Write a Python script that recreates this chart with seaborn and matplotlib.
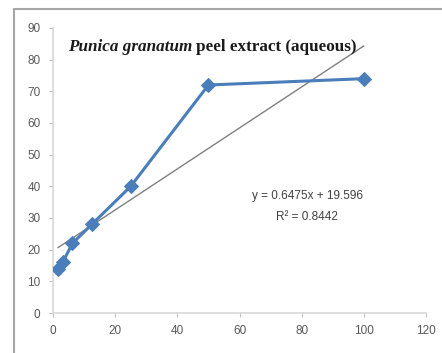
import matplotlib
matplotlib.use("Agg")
import matplotlib.pyplot as plt
import seaborn as sns
import pandas as pd
import numpy as np

# Data
concentration = [1.5625, 3.125, 6.25, 12.5, 25, 50, 100]
inhibition = [14, 16, 22, 28, 40, 72, 74]
slope = 0.6475
intercept = 19.596
x_ticks = [0, 20, 40, 60, 80, 100, 120]
y_ticks = [0, 10, 20, 30, 40, 50, 60, 70, 80, 90]
equation_text = "y = 0.6475x + 19.596"
r2_text = "R² = 0.8442"

sns.set_theme(style="white")
plt.rcParams['font.family'] = ['Liberation Sans', 'DejaVu Sans']

fig = plt.figure(figsize=(4.42, 3.53), dpi=100)
W, H = 442, 353
ax = fig.add_axes([53 / W, (H - 313) / H, 373 / W, 285 / H])

df = pd.DataFrame({"x": concentration, "y": inhibition})
trend_x = [min(concentration), max(concentration)]
trend = pd.DataFrame({"x": trend_x, "y": [slope * v + intercept for v in trend_x]})

sns.lineplot(data=trend, x="x", y="y", ax=ax, color="#808080", linewidth=1.0, zorder=2)
sns.lineplot(data=df, x="x", y="y", ax=ax, color="#4a7ebb", linewidth=2.2,
             marker="D", markersize=7, markeredgecolor="#4a7ebb", zorder=3)

ax.set_xlim(0, 120)
ax.set_ylim(0, 90)
ax.set_xticks(x_ticks)
ax.set_yticks(y_ticks)
ax.set_xlabel("")
ax.set_ylabel("")
for side in ["top", "right"]:
    ax.spines[side].set_visible(False)
for side in ["left", "bottom"]:
    ax.spines[side].set_color("#d9d9d9")
    ax.spines[side].set_linewidth(1.2)
ax.tick_params(axis="both", which="both", direction="out", length=3, width=0.8,
               color="#bfbfbf", labelsize=8.5, labelcolor="#595959", pad=6,
               bottom=True, left=True)
ax.patch.set_alpha(0)

# Title inside plot
t1 = fig.text(68 / W, 1 - 47 / H, "Punica granatum", fontfamily="Liberation Serif",
              fontweight="bold", fontstyle="italic", fontsize=12.3, va="center", ha="left",
              color="#1a1a1a")
fig.canvas.draw()
bb = t1.get_window_extent()
fig.text(bb.x1 / W + 4 / W, 1 - 47 / H, "peel extract (aqueous)", fontfamily="Liberation Serif",
         fontweight="bold", fontsize=12.3, va="center", ha="left", color="#1a1a1a")

ax.text(307 / W, 1 - 196 / H, equation_text, transform=fig.transFigure, ha="center",
        va="center", fontsize=8.5, color="#404040")
ax.text(307 / W, 1 - 217 / H, r2_text, transform=fig.transFigure, ha="center",
        va="center", fontsize=8.5, color="#404040")

# Outer chart frame
fig.add_artist(plt.Line2D([14 / W, 14 / W], [0, 1 - 9 / H], transform=fig.transFigure,
                          color="#a6a6a6", linewidth=1.5))
fig.add_artist(plt.Line2D([14 / W, 1], [1 - 9 / H, 1 - 9 / H], transform=fig.transFigure,
                          color="#a6a6a6", linewidth=1.5))

fig.savefig("out.png", dpi=100)
